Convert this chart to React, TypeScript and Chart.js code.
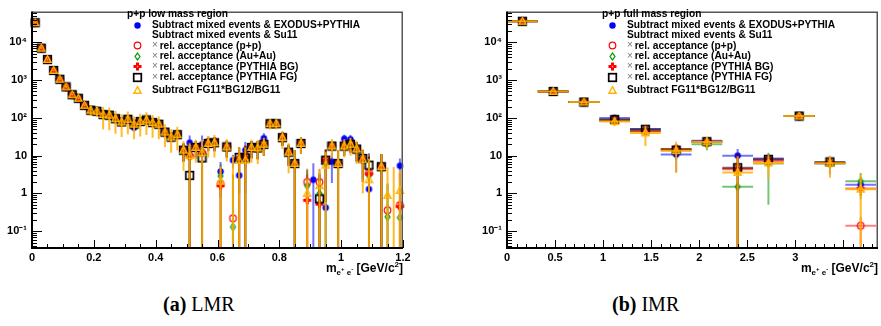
import React, { useEffect, useRef } from "react";
import { Chart, registerables } from "chart.js";
Chart.register(...registerables);

// ---------------- data ----------------
const lmrMass = [0.01, 0.03, 0.05, 0.07, 0.09, 0.11, 0.13, 0.15, 0.17, 0.19,
  0.21, 0.23, 0.25, 0.27, 0.29, 0.31, 0.33, 0.35, 0.37, 0.39,
  0.41, 0.43, 0.45, 0.47, 0.49, 0.51, 0.53, 0.55, 0.57, 0.59,
  0.61, 0.63, 0.65, 0.67, 0.69, 0.71, 0.73, 0.75, 0.77, 0.79,
  0.81, 0.83, 0.85, 0.87, 0.89, 0.91, 0.93, 0.95, 0.97, 0.99,
  1.01, 1.03, 1.05, 1.07, 1.09, 1.11, 1.13, 1.15, 1.17, 1.19];

const lmrExodus = [33000, 7000, 3500, 1800, 1050, 660, 410, 330, 215, 160,
  150, 122, 118, 95, 78, 92, 55, 80, 88, 75,
  68, 42, 31, 36, 14, 22, 16.5, 20, 24, 22,
  3.8, 17, 7.6, 3.0, 14, 16.5, 16, 29, 70, 70,
  30, 12.4, 6.2, 21, null, 2.3, null, 0.42, 6.9, 6.2,
  28, 27, 15, 8, 1.3, null, 5.1, null, null, 5.4];
const lmrPP = [33000, 7000, 3500, 1800, 1050, 660, 410, 330, 215, 160,
  150, 122, 118, 95, 78, 92, 68, 80, 88, 75,
  68, 42, 31, 36, 14, 10, 16.5, 12, 21, 22,
  1.8, 17, 0.22, 8, 10, 16.5, 16, 20, 70, 70,
  30, 12.4, 6.2, 21, 2.0, null, 2.0, 7.6, 18, 6.2,
  18, 20, 15, 8, 3.5, null, 5.1, 0.36, null, 0.49];
const lmrAuAu = [33000, 7000, 3500, 1800, 1050, 660, 410, 330, 215, 160,
  150, 122, 118, 95, 78, 92, 68, 80, 88, 75,
  68, 42, 31, 36, 14, 10, 16.5, 12, 21, 22,
  2.9, 17, 0.13, 8, 9, 16.5, 16, 20, 70, 70,
  30, 12.4, 6.2, 21, 1.6, null, 1.0, 7.0, 18, 6.2,
  18, 20, 15, 8, 3.0, null, 5.1, 0.24, null, 0.23];
const lmrBG = [33000, 7000, 3500, 1800, 1050, 660, 410, 330, 215, 160,
  150, 122, 118, 95, 78, 92, 68, 80, 88, 75,
  68, 42, 31, 36, 14, 10, 16.5, 12, 21, 22,
  1.6, 17, null, 8, 9, 16.5, 16, 20, 70, 70,
  30, 12.4, 6.2, 21, 0.66, null, 0.52, 7.6, 18, 6.2,
  18, 20, 15, 8, 3.3, null, 5.1, null, null, 0.45];
const lmrFG = [33000, 7000, 3500, 1800, 1050, 660, 410, 330, 215, 160,
  150, 122, 118, 95, 78, 92, 68, 80, 88, 75,
  68, 42, 31, 36, 14, 3.0, 16.5, 8.7, 21, 22,
  null, 17, null, 9, 8.7, 16.5, 16, 20, 70, 70,
  30, 12.4, 6.2, 21, null, null, 0.72, 7.6, 18, 6.2,
  18, 20, 15, 8.4, 5.6, null, 5.1, null, null, null];
const lmrFG11 = [33000, 7000, 3500, 1800, 1050, 660, 410, 330, 215, 160,
  150, 122, 118, 95, 78, 92, 68, 80, 88, 75,
  68, 42, 31, 36, 14, 10, 16.5, 12, 21, 22,
  2.1, 17, -2, 7.5, 7.6, 16.5, 16, 20, 70, 70,
  30, 12.4, 6.2, 21, 1.0, null, 1.6, 5.6, 18, 6.2,
  18, 20, 15, 8, 2.3, null, 5.1, 0.89, -1, 1.2];

const lmrErrDark = [1000, 210, 105, 54, 32, 20, 12, 10, 6.5, 13,
  12, 18, 18, 14, 12, 14, 10, 12, 13, 11,
  10, 8, 6, 7, 7, 12, 8, 14, 8, 9,
  3, 8, 3, 8, 9, 8, 8, 10, 14, 14,
  12, 7, 8, 10, 2.5, 4, 2.5, 7, 5, 8,
  8, 8, 8, 6, 6, 0, 6, 1.5, 0, 3];
const lmrErrFG11 = [1650, 350, 175, 90, 52, 33, 20, 16, 11, 48,
  45, 73, 71, 57, 47, 55, 41, 48, 53, 45,
  41, 25, 19, 22, 10, 11, 10, 14, 12, 13,
  3, 10, 12, 9, 9, 10, 10, 10, 21, 21,
  15, 9, 8, 10, 1.5, 0, 2.5, 7, 9, 8,
  9, 10, 9, 7, 6, 0, 6, 4, 6, 3];

const imrMass = [0.16, 0.48, 0.8, 1.12, 1.44, 1.76, 2.08, 2.4, 2.72, 3.04, 3.36, 3.68];
const imrHalfWidth = 0.16;
const imrExodus = [36000, 500, 263, 100, 51, 10.7, 25, 10, 8.4, 112, 6.3, 1.7];
const imrPP = [36000, 500, 263, 87, 46, 15, 23.5, 4.6, 7.8, 112, 6.5, 0.14];
const imrAuAu = [36000, 500, 263, 87, 46, 15, 20, 1.5, 6.2, 112, 6.2, 2.1];
const imrBG = [36000, 500, 263, 85, 45, 15, 23.5, 4.4, 7.2, 112, 6.5, 1.35];
const imrFG = [36000, 500, 263, 90, 50, 14, 23.5, 4.8, 8, 112, 6.8, null];
const imrFG11 = [36000, 500, 263, 80, 40, 13.5, 23, 3.6, 6.4, 112, 6.3, 1.3];
const imrErrExodus = [300, 8, 5, 12, 6, 7, 5, 5, 2, 4, 3.1, 0.6];
const imrErrPP = [300, 8, 5, 10, 6, 4, 5, 6, 2, 4, 1.5, 0.1];
const imrErrAuAu = [300, 8, 5, 10, 6, 4, 6, 2, 5.7, 4, 1.5, 1.4];
const imrErrBG = [300, 8, 5, 10, 6, 4, 5, 6, 2, 4, 1.5, 0.5];
const imrErrFG = [300, 8, 5, 10, 6, 6, 5, 6, 2, 4, 1.5, 0];
const imrErrFG11 = [400, 10, 6, 20, 22, 10, 8, 6, 4, 5, 3.7, 2];

const yTickLabels = ["10⁻¹", "1", "10", "10²", "10³", "10⁴"]; // decades -1..4
const lmrXTickLabels = ["0", "0.2", "0.4", "0.6", "0.8", "1", "1.2"];
const imrXTickLabels = ["0", "0.5", "1", "1.5", "2", "2.5", "3", "3.5"];
const legendLabels = [
  "Subtract mixed events & EXODUS+PYTHIA",
  "Subtract mixed events & Su11",
  "rel. acceptance (p+p)",
  "rel. acceptance (Au+Au)",
  "rel. acceptance (PYTHIA BG)",
  "rel. acceptance (PYTHIA FG)",
  "Subtract FG11*BG12/BG11",
];
const lmrTitle = "p+p low mass region";
const imrTitle = "p+p full mass region";

// ---------------- styles ----------------
const FONT = '"Liberation Sans", Arial, Helvetica, sans-serif';
const STYLE: any = {
  exodus: { color: "#0000ff", err: "rgba(0,0,255,0.55)", marker: "dot", order: 5 },
  pp: { color: "#ff0000", err: "rgba(255,0,0,0.5)", marker: "ocircle", order: 4 },
  auau: { color: "#009a00", err: "rgba(0,150,0,0.55)", marker: "diamond", order: 3 },
  bg: { color: "#ff0000", err: "rgba(255,0,0,0.5)", marker: "cross", order: 2 },
  fg: { color: "#000000", err: "rgba(0,0,0,0.5)", marker: "square", order: 1 },
  fg11: { color: "#ffb300", err: "rgba(255,176,0,0.85)", marker: "triangle", order: 0 },
};
const legendRows = [
  { marker: "dot", times: false },
  { marker: null, times: false },
  { marker: "ocircle", times: true },
  { marker: "diamond", times: true },
  { marker: "cross", times: true },
  { marker: "square", times: true },
  { marker: "triangle", times: false },
];
const legendRowY = [25, 35, 45.7, 56, 66.7, 77.3, 90];

function makeMarker(kind: string, color: string) {
  const c = document.createElement("canvas");
  c.width = 11; c.height = 11;
  const g = c.getContext("2d") as CanvasRenderingContext2D;
  g.strokeStyle = color; g.fillStyle = color; g.lineWidth = 1.2;
  const m = 5.5;
  if (kind === "dot") { g.beginPath(); g.arc(m, m, 3.2, 0, Math.PI * 2); g.fill(); }
  else if (kind === "ocircle") { g.beginPath(); g.arc(m, m, 3.3, 0, Math.PI * 2); g.stroke(); }
  else if (kind === "diamond") { g.beginPath(); g.moveTo(m, m - 3.4); g.lineTo(m + 2.5, m); g.lineTo(m, m + 3.4); g.lineTo(m - 2.5, m); g.closePath(); g.stroke(); }
  else if (kind === "cross") { g.fillRect(m - 1.5, m - 4, 3, 8); g.fillRect(m - 4, m - 1.5, 8, 3); g.fillStyle = "#ffa0a0"; g.fillRect(m - 0.7, m - 0.7, 1.4, 1.4); }
  else if (kind === "square") { g.lineWidth = 1.7; g.strokeRect(m - 3.8, m - 3.8, 7.6, 7.6); }
  else if (kind === "triangle") { g.lineWidth = 1.4; g.beginPath(); g.moveTo(m, m - 3.8); g.lineTo(m + 3.6, m + 2.8); g.lineTo(m - 3.6, m + 2.8); g.closePath(); g.stroke(); }
  return c;
}

function buildChart(canvas: HTMLCanvasElement, p: any, markers: any) {
  const datasets = p.series.map((s: any) => {
    const st = STYLE[s.key];
    const data: any[] = [];
    const bars: any[] = [];
    p.xs.forEach((x: number, i: number) => {
      const v = s.values[i];
      if (v === null || v === undefined) return;
      const e = s.errs[i] || 0;
      if (v > 0) data.push({ x, y: v });
      bars.push({ x, v, lo: v - e, hi: v + e });
    });
    return {
      label: s.key, data, bars, errColor: st.err, xErr: p.xErr,
      pointStyle: markers[st.marker], pointRadius: 4, showLine: false,
      clip: false, order: st.order,
    };
  });

  const plugin = {
    id: "rootStyle",
    beforeDatasetDraw(chart: any, args: any) {
      const ds = chart.data.datasets[args.index];
      if (!ds || !ds.bars) return;
      const { ctx, chartArea: a } = chart;
      const xs = chart.scales.x, ys = chart.scales.y;
      ctx.save();
      ctx.beginPath(); ctx.rect(a.left, a.top, a.right - a.left, a.bottom - a.top); ctx.clip();
      ctx.strokeStyle = ds.errColor; ctx.lineWidth = 2;
      for (const b of ds.bars) {
        const px = xs.getPixelForValue(b.x);
        if (b.hi > 0) {
          const yHi = ys.getPixelForValue(b.hi);
          const yLo = b.lo > 0 ? ys.getPixelForValue(b.lo) : a.bottom;
          ctx.beginPath(); ctx.moveTo(px, yLo); ctx.lineTo(px, yHi); ctx.stroke();
        }
        if (ds.xErr && b.v > 0) {
          const py = ys.getPixelForValue(b.v);
          ctx.beginPath();
          ctx.moveTo(xs.getPixelForValue(b.x - ds.xErr), py);
          ctx.lineTo(xs.getPixelForValue(b.x + ds.xErr), py);
          ctx.stroke();
        }
      }
      ctx.restore();
    },
    afterDraw(chart: any) {
      const { ctx, chartArea: a } = chart;
      const xs = chart.scales.x, ys = chart.scales.y;
      ctx.save();
      ctx.strokeStyle = "#000"; ctx.lineWidth = 1;
      const n = Math.round(p.xMax / p.xMinor);
      for (let i = 0; i <= n; i++) {
        const v = i * p.xMinor;
        if (v > p.xMax + 1e-9) break;
        const r = v / p.xStep;
        const major = Math.abs(r - Math.round(r)) < 1e-6;
        const px = Math.round(xs.getPixelForValue(v)) + 0.5;
        ctx.beginPath(); ctx.moveTo(px, a.bottom); ctx.lineTo(px, a.bottom - (major ? 8 : 4)); ctx.stroke();
      }
      for (let d = -3; d <= 6; d++) {
        for (let m = 1; m <= 9; m++) {
          const v = m * Math.pow(10, d);
          if (v < ys.min || v > ys.max) continue;
          const py = Math.round(ys.getPixelForValue(v)) + 0.5;
          ctx.beginPath(); ctx.moveTo(a.left, py); ctx.lineTo(a.left + (m === 1 ? 10 : 5), py); ctx.stroke();
        }
      }
      // frame
      ctx.strokeStyle = "#555"; ctx.lineWidth = 1.5;
      ctx.beginPath(); ctx.moveTo(a.left, a.top + 0.75); ctx.lineTo(a.right - 0.75, a.top + 0.75); ctx.lineTo(a.right - 0.75, a.bottom); ctx.stroke();
      ctx.strokeStyle = "#000"; ctx.lineWidth = 2;
      ctx.beginPath(); ctx.moveTo(a.left, a.top); ctx.lineTo(a.left, a.bottom); ctx.lineTo(a.right, a.bottom); ctx.stroke();

      // x-axis title
      const parts = [
        { t: "m", s: 12, dy: 0 }, { t: "e", s: 8, dy: 3 }, { t: "+", s: 6, dy: -1 },
        { t: " e", s: 8, dy: 3 }, { t: "-", s: 6, dy: -1 }, { t: " [GeV/c", s: 12, dy: 0 },
        { t: "2", s: 8, dy: -5 }, { t: "]", s: 12, dy: 0 },
      ];
      let total = 0;
      for (const q of parts) { ctx.font = `bold ${q.s}px ${FONT}`; total += ctx.measureText(q.t).width; }
      let tx = a.right - total;
      const base = a.bottom + 24;
      ctx.fillStyle = "#000"; ctx.textBaseline = "alphabetic"; ctx.textAlign = "left";
      for (const q of parts) {
        ctx.font = `bold ${q.s}px ${FONT}`;
        ctx.fillText(q.t, tx, base + q.dy);
        tx += ctx.measureText(q.t).width;
      }

      // legend
      ctx.textBaseline = "middle";
      ctx.font = `bold 10.2px ${FONT}`;
      ctx.fillText(p.legendTitle, a.left + 95, 14);
      legendRows.forEach((r, i) => {
        const y = legendRowY[i];
        if (r.marker) ctx.drawImage(markers[r.marker], Math.round(a.left + 105 - 5.5), Math.round(y - 5.5));
        let x = a.left + 120;
        if (r.times) {
          ctx.font = `10px ${FONT}`; ctx.fillStyle = "#777";
          ctx.fillText("×", x, y);
          x += ctx.measureText("×").width + 1.8;
        }
        ctx.font = `bold 10.2px ${FONT}`; ctx.fillStyle = "#000";
        ctx.fillText(legendLabels[i], x, y);
      });
      ctx.restore();
    },
  };

  const tickFont = { family: FONT, size: 11, weight: "bold" as const };
  return new Chart(canvas, {
    type: "scatter",
    data: { datasets },
    plugins: [plugin],
    options: {
      responsive: false,
      animation: false,
      events: [],
      layout: { padding: { left: 0, top: 2, right: p.padRight, bottom: 0 }, autoPadding: false },
      plugins: { legend: { display: false }, tooltip: { enabled: false } },
      scales: {
        x: {
          type: "linear", min: 0, max: p.xMax,
          grid: { display: false, drawTicks: false }, border: { display: false },
          ticks: {
            stepSize: p.xStep, autoSkip: false, maxRotation: 0, padding: 3, color: "#000", font: tickFont,
            callback: (v: any) => {
              const k = Math.round(v / p.xStep);
              return Math.abs(v - k * p.xStep) < 1e-6 ? (p.xLabels[k] ?? "") : "";
            },
          },
          afterFit: (s: any) => { s.height = 34; },
        },
        y: {
          type: "logarithmic", min: 0.036, max: 65000,
          grid: { display: false, drawTicks: false }, border: { display: false },
          ticks: {
            autoSkip: false, padding: 5, color: "#000", font: tickFont,
            callback: (v: any) => {
              const e = Math.log10(v);
              const r = Math.round(e);
              if (Math.abs(e - r) > 1e-6) return "";
              return yTickLabels[r + 1] ?? "";
            },
          },
          afterFit: (s: any) => { s.width = p.yWidth; },
        },
      },
    } as any,
  });
}

const captionStyle = (left: number): any => ({
  position: "absolute", left, top: 292, fontFamily: '"Liberation Serif", "DejaVu Serif", serif',
  fontSize: 20, lineHeight: "24px", color: "#000", whiteSpace: "nowrap",
});

export default function App() {
  const leftRef = useRef<HTMLCanvasElement>(null);
  const rightRef = useRef<HTMLCanvasElement>(null);
  useEffect(() => {
    const markers: any = {};
    for (const k of Object.keys(STYLE)) markers[STYLE[k].marker] = makeMarker(STYLE[k].marker, STYLE[k].color);
    const c1 = buildChart(leftRef.current as HTMLCanvasElement, {
      xs: lmrMass, xMax: 1.2, xStep: 0.2, xMinor: 0.05, xLabels: lmrXTickLabels, xErr: 0,
      yWidth: 32, padRight: 37, legendTitle: lmrTitle,
      series: [
        { key: "exodus", values: lmrExodus, errs: lmrErrDark },
        { key: "pp", values: lmrPP, errs: lmrErrDark },
        { key: "auau", values: lmrAuAu, errs: lmrErrDark },
        { key: "bg", values: lmrBG, errs: lmrErrDark },
        { key: "fg", values: lmrFG, errs: lmrErrDark },
        { key: "fg11", values: lmrFG11, errs: lmrErrFG11 },
      ],
    }, markers);
    const c2 = buildChart(rightRef.current as HTMLCanvasElement, {
      xs: imrMass, xMax: 3.86, xStep: 0.5, xMinor: 0.1, xLabels: imrXTickLabels, xErr: imrHalfWidth,
      yWidth: 67, padRight: 2, legendTitle: imrTitle,
      series: [
        { key: "exodus", values: imrExodus, errs: imrErrExodus },
        { key: "pp", values: imrPP, errs: imrErrPP },
        { key: "auau", values: imrAuAu, errs: imrErrAuAu },
        { key: "bg", values: imrBG, errs: imrErrBG },
        { key: "fg", values: imrFG, errs: imrErrFG },
        { key: "fg11", values: imrFG11, errs: imrErrFG11 },
      ],
    }, markers);
    return () => { c1.destroy(); c2.destroy(); };
  }, []);
  return (
    <div style={{ position: "absolute", left: 0, top: 0, width: 881, height: 326, background: "#fff", overflow: "hidden" }}>
      <canvas ref={leftRef} width={440} height={282} style={{ position: "absolute", left: 0, top: 0, width: 440, height: 282 }} />
      <canvas ref={rightRef} width={441} height={282} style={{ position: "absolute", left: 440, top: 0, width: 441, height: 282 }} />
      <div style={captionStyle(163)}><b>(a)</b> LMR</div>
      <div style={captionStyle(612)}><b>(b)</b> IMR</div>
    </div>
  );
}
